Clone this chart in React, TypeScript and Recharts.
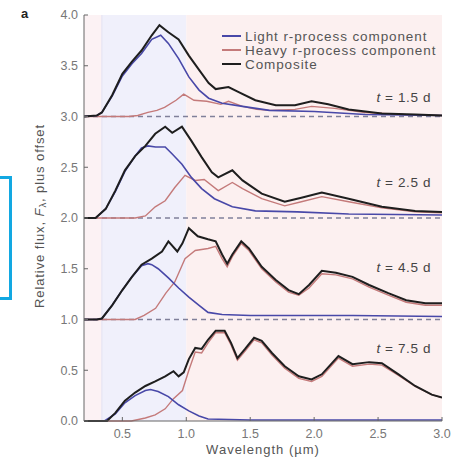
import React from "react";
import {
  LineChart,
  Line,
  XAxis,
  YAxis,
  ReferenceArea,
  ReferenceLine,
  Label,
} from "recharts";

// wavelength (µm), relative flux (without offset)
const light15 = [
  [0.2, 0], [0.3, 0.01], [0.34, 0.04], [0.42, 0.2], [0.5, 0.4], [0.575, 0.52],
  [0.65, 0.62], [0.73, 0.76], [0.8, 0.8], [0.86, 0.72], [0.94, 0.57],
  [1.02, 0.39], [1.1, 0.26], [1.175, 0.18], [1.28, 0.13], [1.44, 0.1],
  [1.65, 0.06], [2.0, 0.05], [2.4, 0.02], [3.0, 0.01],
];
const heavy15 = [
  [0.2, 0], [0.55, 0], [0.62, 0.01], [0.7, 0.04], [0.77, 0.06], [0.83, 0.09],
  [0.92, 0.16], [0.98, 0.22], [1.06, 0.16], [1.16, 0.15], [1.27, 0.12],
  [1.33, 0.15], [1.44, 0.1], [1.55, 0.07], [1.65, 0.06], [1.85, 0.07],
  [1.98, 0.1], [2.16, 0.08], [2.4, 0.04], [2.7, 0.02], [3.0, 0.01],
];
const comp15 = [
  [0.2, 0], [0.3, 0.01], [0.34, 0.04], [0.42, 0.21], [0.5, 0.42], [0.575, 0.54],
  [0.65, 0.65], [0.73, 0.8], [0.79, 0.9], [0.86, 0.83], [0.94, 0.76],
  [1.02, 0.6], [1.1, 0.46], [1.175, 0.33], [1.23, 0.27], [1.33, 0.29],
  [1.41, 0.24], [1.54, 0.16], [1.7, 0.11], [1.85, 0.11], [1.98, 0.15],
  [2.11, 0.12], [2.27, 0.07], [2.53, 0.03], [2.79, 0.02], [3.0, 0.01],
];

const light25 = [
  [0.2, 0], [0.29, 0], [0.37, 0.09], [0.445, 0.26], [0.52, 0.46], [0.6, 0.61],
  [0.65, 0.69], [0.7, 0.71], [0.76, 0.7], [0.835, 0.7], [0.89, 0.63],
  [0.966, 0.53], [1.04, 0.4], [1.12, 0.29], [1.22, 0.19], [1.36, 0.11],
  [1.54, 0.07], [1.87, 0.06], [2.27, 0.04], [3.0, 0.03],
];
const heavy25 = [
  [0.2, 0], [0.6, 0], [0.68, 0.02], [0.757, 0.11], [0.835, 0.17], [0.91, 0.3],
  [0.99, 0.42], [1.07, 0.37], [1.14, 0.38], [1.25, 0.27], [1.36, 0.35],
  [1.44, 0.29], [1.59, 0.19], [1.77, 0.12], [1.9, 0.16], [2.06, 0.21],
  [2.27, 0.16], [2.53, 0.1], [2.79, 0.06], [3.0, 0.05],
];
const comp25 = [
  [0.2, 0], [0.29, 0], [0.37, 0.09], [0.445, 0.27], [0.52, 0.47], [0.6, 0.61],
  [0.68, 0.71], [0.757, 0.83], [0.835, 0.9], [0.89, 0.84], [0.966, 0.9],
  [1.04, 0.76], [1.12, 0.6], [1.2, 0.45], [1.25, 0.4], [1.36, 0.47],
  [1.44, 0.37], [1.59, 0.24], [1.77, 0.16], [1.9, 0.2], [2.06, 0.25],
  [2.27, 0.19], [2.53, 0.11], [2.79, 0.07], [3.0, 0.06],
];

const light45 = [
  [0.2, 0], [0.3, 0], [0.34, 0.01], [0.42, 0.14], [0.5, 0.29], [0.575, 0.42],
  [0.65, 0.53], [0.7, 0.55], [0.73, 0.54], [0.78, 0.5], [0.86, 0.41],
  [0.94, 0.31], [1.02, 0.22], [1.1, 0.14], [1.17, 0.07], [1.28, 0.05],
  [1.5, 0.04], [2.3, 0.04], [3.0, 0.03],
];
const heavy45 = [
  [0.2, 0], [0.6, 0], [0.67, 0.04], [0.76, 0.11], [0.84, 0.26], [0.91, 0.37],
  [0.99, 0.6], [1.07, 0.68], [1.17, 0.7], [1.23, 0.72], [1.28, 0.6],
  [1.32, 0.52], [1.36, 0.62], [1.43, 0.75], [1.49, 0.68], [1.59, 0.5],
  [1.7, 0.37], [1.8, 0.27], [1.88, 0.24], [1.96, 0.31], [2.06, 0.45],
  [2.17, 0.44], [2.3, 0.4], [2.43, 0.32], [2.58, 0.24], [2.72, 0.17],
  [2.87, 0.14], [3.0, 0.14],
];
const comp45 = [
  [0.2, 0], [0.3, 0], [0.34, 0.01], [0.42, 0.14], [0.5, 0.29], [0.575, 0.42],
  [0.65, 0.54], [0.73, 0.6], [0.81, 0.67], [0.86, 0.77], [0.93, 0.67],
  [0.97, 0.75], [1.02, 0.9], [1.09, 0.82], [1.17, 0.79], [1.23, 0.77],
  [1.28, 0.64], [1.32, 0.55], [1.36, 0.64], [1.43, 0.77], [1.49, 0.7],
  [1.59, 0.52], [1.7, 0.39], [1.8, 0.29], [1.88, 0.25], [1.96, 0.34],
  [2.06, 0.48], [2.17, 0.46], [2.3, 0.42], [2.43, 0.34], [2.58, 0.26],
  [2.72, 0.19], [2.87, 0.16], [3.0, 0.16],
];

const light75 = [
  [0.2, 0], [0.36, 0], [0.445, 0.07], [0.52, 0.18], [0.6, 0.25], [0.68, 0.3],
  [0.72, 0.31], [0.78, 0.29], [0.86, 0.24], [0.94, 0.16], [1.02, 0.1],
  [1.1, 0.05], [1.17, 0.02], [1.5, 0.01], [3.0, 0.01],
];
const heavy75 = [
  [0.2, 0], [0.57, 0], [0.68, 0.03], [0.757, 0.06], [0.835, 0.12], [0.9, 0.22],
  [0.97, 0.3], [1.02, 0.5], [1.07, 0.68], [1.12, 0.67], [1.17, 0.77],
  [1.23, 0.87], [1.3, 0.87], [1.35, 0.75], [1.4, 0.6], [1.46, 0.69],
  [1.53, 0.8], [1.59, 0.77], [1.67, 0.65], [1.77, 0.52], [1.88, 0.42],
  [1.98, 0.39], [2.06, 0.44], [2.19, 0.62], [2.3, 0.54], [2.43, 0.56],
  [2.53, 0.55], [2.66, 0.45], [2.79, 0.34], [2.92, 0.26], [3.0, 0.23],
];
const comp75 = [
  [0.2, 0], [0.38, 0], [0.445, 0.08], [0.52, 0.2], [0.6, 0.28], [0.68, 0.345],
  [0.757, 0.39], [0.835, 0.44], [0.9, 0.49], [0.94, 0.44], [0.98, 0.48],
  [1.02, 0.61], [1.07, 0.72], [1.12, 0.71], [1.17, 0.8], [1.23, 0.89],
  [1.3, 0.89], [1.35, 0.77], [1.4, 0.62], [1.46, 0.71], [1.53, 0.82],
  [1.59, 0.79], [1.67, 0.67], [1.77, 0.54], [1.88, 0.44], [1.98, 0.41],
  [2.06, 0.46], [2.19, 0.64], [2.3, 0.56], [2.43, 0.58], [2.53, 0.57],
  [2.66, 0.46], [2.79, 0.345], [2.92, 0.26], [3.0, 0.23],
];

const epochs = ["1.5", "2.5", "4.5", "7.5"];
const offsets = [3, 2, 1, 0];
const lightSeries = [light15, light25, light45, light75];
const heavySeries = [heavy15, heavy25, heavy45, heavy75];
const compSeries = [comp15, comp25, comp45, comp75];

const xTicks = [0.5, 1.0, 1.5, 2.0, 2.5, 3.0];
const yTicks = [0, 0.5, 1.0, 1.5, 2.0, 2.5, 3.0, 3.5, 4.0];

const BLUE = "#4848a8";
const RED = "#c47a7a";
const BLACK = "#1e1e1e";
const FONT = "'Liberation Sans', Arial, sans-serif";

const toPoints = (pts: number[][], off: number) =>
  pts.map(([x, y]) => ({ x, y: y + off }));

const legendItems = [
  { name: "Light r-process component", color: BLUE },
  { name: "Heavy r-process component", color: RED },
  { name: "Composite", color: BLACK },
];

// y positions of the epoch labels (data units)
const epochLabelY = [3.18, 2.34, 1.51, 0.71];

export default function App() {
  const W = 472;
  const H = 457;
  const top = 15;
  const bottom = 421;
  const yToPx = (v: number) => bottom - ((bottom - top) * v) / 4;

  return (
    <div
      style={{
        position: "absolute",
        left: 0,
        top: 0,
        width: W,
        height: H,
        background: "#fff",
        fontFamily: FONT,
      }}
    >
      <LineChart
        width={W}
        height={H}
        margin={{ top: 15, right: 30, bottom: 0, left: 0 }}
      >
        <ReferenceArea x1={0.2} x2={0.34} y1={0} y2={4} fill="#fcf2f4" fillOpacity={1} stroke="none" />
        <ReferenceArea x1={0.34} x2={1.0} y1={0} y2={4} fill="#f0f0fb" fillOpacity={1} stroke="none" />
        <ReferenceArea x1={1.0} x2={3.0} y1={0} y2={4} fill="#fcf0f0" fillOpacity={1} stroke="none" />
        <ReferenceLine x={0.34} stroke="#e2e2f2" strokeWidth={1} />
        {offsets.slice(0, 3).map((o) => (
          <ReferenceLine
            key={o}
            y={o}
            stroke="#80809a"
            strokeWidth={1.3}
            strokeDasharray="5 4"
          />
        ))}
        <XAxis
          dataKey="x"
          type="number"
          domain={[0.2, 3.0]}
          ticks={xTicks}
          allowDataOverflow
          tickFormatter={(v: number) => v.toFixed(1)}
          tick={{ fill: "#777", fontSize: 12.5, fontFamily: FONT }}
          tickSize={-4}
          tickMargin={12}
          stroke="#666"
          height={36}
        >
          <Label
            value="Wavelength (µm)"
            position="insideBottom"
            offset={3}
            style={{ fill: "#555", fontSize: 13, letterSpacing: 1, fontFamily: FONT }}
          />
        </XAxis>
        <XAxis
          xAxisId="top"
          orientation="top"
          dataKey="x"
          type="number"
          domain={[0.2, 3.0]}
          ticks={xTicks}
          tick={false}
          tickSize={-4}
          height={0}
          stroke="#666"
        />
        <YAxis
          type="number"
          domain={[0, 4]}
          ticks={yTicks}
          tickFormatter={(v: number) => v.toFixed(1)}
          tick={{ fill: "#777", fontSize: 12.5, fontFamily: FONT }}
          tickSize={-4}
          tickMargin={10}
          stroke="#666"
          width={84}
        >
          <Label
            content={() => (
              <text
                x={39}
                y={216}
                transform="rotate(-90, 39, 216)"
                textAnchor="middle"
                dominantBaseline="central"
                fill="#555"
                fontSize={13}
                letterSpacing={0.9}
                fontFamily={FONT}
              >
                Relative flux, <tspan fontStyle="italic">F</tspan>
                <tspan dy={3} fontSize={9.5}>λ</tspan>
                <tspan dy={-3}>, plus offset</tspan>
              </text>
            )}
          />
        </YAxis>
        <YAxis
          yAxisId="right"
          orientation="right"
          type="number"
          domain={[0, 4]}
          ticks={yTicks}
          tick={false}
          tickSize={-4}
          width={0}
          stroke="#666"
        />
        {offsets.map((o, i) => (
          <Line
            key={`h${i}`}
            data={toPoints(heavySeries[i], o)}
            dataKey="y"
            type="linear"
            stroke={RED}
            strokeWidth={1.4}
            dot={false}
            isAnimationActive={false}
          />
        ))}
        {offsets.map((o, i) => (
          <Line
            key={`l${i}`}
            data={toPoints(lightSeries[i], o)}
            dataKey="y"
            type="linear"
            stroke={BLUE}
            strokeWidth={1.6}
            dot={false}
            isAnimationActive={false}
          />
        ))}
        {offsets.map((o, i) => (
          <Line
            key={`c${i}`}
            data={toPoints(compSeries[i], o)}
            dataKey="y"
            type="linear"
            stroke={BLACK}
            strokeWidth={2}
            dot={false}
            isAnimationActive={false}
          />
        ))}
      </LineChart>

      <div
        style={{
          position: "absolute",
          left: 21,
          top: 6,
          fontWeight: "bold",
          fontSize: 13,
          color: "#222",
        }}
      >
        a
      </div>

      <div style={{ position: "absolute", left: 222, top: 29 }}>
        {legendItems.map((it) => (
          <div
            key={it.name}
            style={{
              display: "flex",
              alignItems: "center",
              height: 14,
              fontSize: 13.5,
              letterSpacing: 0.9,
              color: "#555",
              whiteSpace: "nowrap",
            }}
          >
            <span
              style={{
                display: "inline-block",
                width: 19,
                height: 2,
                background: it.color,
                marginRight: 4,
              }}
            />
            {it.name}
          </div>
        ))}
      </div>

      {epochs.map((e, i) => (
        <div
          key={e}
          style={{
            position: "absolute",
            right: W - 431,
            top: yToPx(epochLabelY[i]) - 8,
            fontSize: 13.5,
            letterSpacing: 0.6,
            color: "#444",
            whiteSpace: "nowrap",
          }}
        >
          <i>t</i> = {e} d
        </div>
      ))}

      <div
        style={{
          position: "absolute",
          left: -3,
          top: 176,
          width: 12,
          height: 118,
          borderTop: "3px solid #12a8e2",
          borderRight: "3px solid #12a8e2",
          borderBottom: "3px solid #12a8e2",
        }}
      />
    </div>
  );
}
